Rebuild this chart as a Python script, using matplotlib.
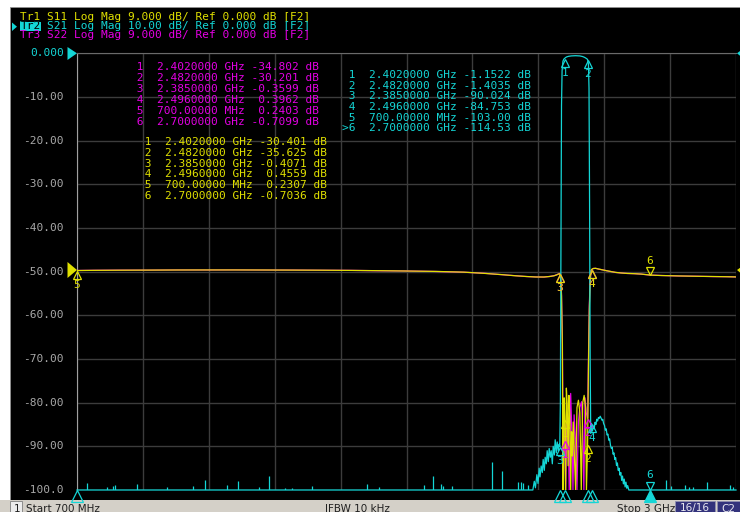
import numpy as np
import matplotlib
matplotlib.use("Agg")
from matplotlib import pyplot as plt
from matplotlib import transforms as mtrans
from matplotlib.patches import Rectangle, Polygon

W, H = 740, 512

# ---- trace data (frequency in MHz) ----
# Tr2 S21, dB (values below -100 sit on the bottom of the screen)
s21_freq = [700, 2285, 2291, 2296, 2300, 2305, 2309, 2313, 2316, 2320, 2324, 2327, 2331, 2334,
            2338, 2341, 2345, 2348, 2352, 2355, 2359, 2362, 2366, 2369, 2373, 2376, 2380, 2383,
            2385, 2387, 2389, 2391, 2393, 2396, 2399, 2402, 2408, 2415, 2425, 2440, 2455, 2465,
            2472, 2477, 2482, 2485, 2487, 2489, 2491, 2493, 2496, 2499, 2502, 2505, 2508, 2511,
            2514, 2517, 2520, 2523, 2526, 2529, 2532, 2535, 2538, 2541, 2544, 2547, 2550, 2553,
            2556, 2559, 2562, 2565, 2568, 2571, 2574, 2577, 2580, 2583, 2586, 2589, 2592, 2595,
            2598, 2601, 2604, 2607, 2610, 2613, 2616, 2619, 2622, 2626, 3000]
s21_db = [-110, -110, -100.5, -98, -99.5, -96.5, -98.5, -95, -97, -94.5, -96, -93, -95.5, -92.5,
          -94, -91, -93.5, -90.5, -92.5, -91, -94, -90, -92, -88.5, -91.5, -89, -91, -89.5,
          -90.02, -80, -45, -12, -4, -1.8, -1.35, -1.15, -0.85, -0.7, -0.6, -0.55, -0.6, -0.75,
          -0.95, -1.15, -1.40, -2.5, -8, -35, -70, -87, -84.75, -86.5, -85.5, -86, -84.5, -85,
          -83.8, -84.2, -83.4, -83.6, -83.1, -83.5, -84, -83.8, -84.8, -85.2, -86.3, -86, -87.4, -87.2,
          -88.6, -88.3, -89.8, -90.5, -90.2, -91.8, -91.5, -93, -92.6, -94.4, -93.8, -95.5, -95, -96.6,
          -96, -97.8, -96.8, -98.6, -97.5, -99.3, -98.2, -99.6, -99, -104, -110]
# noise spikes poking above the S21 floor
spike_freq = [734, 804, 827, 833, 910, 1013, 1104, 1146, 1223, 1263, 1336, 1369, 1427, 1449,
              1521, 1711, 1754, 1911, 1944, 1969, 1978, 2008, 2149, 2184, 2240, 2249, 2258, 2273,
              2754, 2772, 2822, 2835, 2849, 2898, 2979, 2990]
spike_db = [-98.3, -99.2, -99.1, -98.8, -98.6, -99.3, -99.1, -97.7, -98.8, -97.9, -99.4, -96.8,
            -99.5, -99.5, -99.1, -98.6, -99.2, -98.9, -96.9, -98.6, -99.0, -99.1, -93.5, -95.7,
            -98.2, -98.2, -98.5, -98.8, -97.7, -99.1, -98.9, -99.3, -99.2, -98.1, -98.9, -99.2]

# Tr1 S11, dB
s11_freq = [700, 760, 850, 950, 1050, 1150, 1250, 1350, 1450, 1550, 1650, 1750, 1850, 1950,
            2050, 2120, 2180, 2230, 2270, 2300, 2330, 2350, 2365, 2375, 2380, 2385, 2388, 2391,
            2394, 2396, 2398, 2400, 2402, 2405, 2408, 2411, 2414, 2417, 2420, 2423, 2426, 2429,
            2432, 2435, 2440, 2445, 2450, 2455, 2460, 2465, 2470, 2475, 2478, 2482, 2485, 2488,
            2491, 2494, 2496, 2502, 2510, 2520, 2535, 2550, 2565, 2580, 2600, 2620, 2645, 2670,
            2700, 2740, 2800, 2860, 2920, 2970, 3000]
s11_db = [0.231, 0.27, 0.3, 0.32, 0.34, 0.35, 0.35, 0.34, 0.32, 0.3, 0.26, 0.2, 0.13, 0.05,
          -0.1, -0.35, -0.6, -0.85, -1.0, -1.1, -1.1, -1.0, -0.85, -0.65, -0.5, -0.407, -1.5, -5,
          -15, -45, -28, -26, -30.401, -45, -24, -27.5, -40, -25.5, -30, -46, -33, -38,
          -31, -36, -45, -28, -26.5, -29, -45, -27, -25.5, -28, -45, -35.625, -20, -8,
          -2, 0.2, 0.456, 0.66, 0.68, 0.55, 0.35, 0.18, 0.0, -0.15, -0.28, -0.36, -0.42, -0.5,
          -0.704, -0.8, -0.88, -0.95, -1.0, -1.05, -1.08]

# Tr3 S22, dB
s22_freq = [700, 760, 850, 950, 1050, 1150, 1250, 1350, 1450, 1550, 1650, 1750, 1850, 1950,
            2050, 2120, 2180, 2230, 2270, 2300, 2330, 2350, 2365, 2375, 2380, 2385, 2388, 2391,
            2394, 2397, 2400, 2402, 2406, 2410, 2414, 2418, 2423, 2427, 2431, 2435, 2440, 2445,
            2450, 2455, 2461, 2465, 2469, 2473, 2477, 2482, 2485, 2488, 2491, 2494, 2496, 2502,
            2510, 2520, 2535, 2550, 2565, 2580, 2600, 2620, 2645, 2670, 2700, 2740, 2800, 2860,
            2920, 2970, 3000]
s22_db = [0.240, 0.28, 0.31, 0.31, 0.35, 0.34, 0.36, 0.33, 0.33, 0.29, 0.27, 0.19, 0.14, 0.04,
          -0.12, -0.33, -0.62, -0.83, -1.02, -1.08, -1.12, -0.98, -0.83, -0.62, -0.47, -0.360, -1.2,
          -4.5, -14, -38, -29, -34.802, -45, -29, -33, -45, -25.1, -33, -45, -29.5, -35, -45,
          -31, -28, -26.8, -32, -45, -26, -29, -30.201, -18, -7, -1.8, 0.2, 0.396, 0.64,
          0.7, 0.53, 0.37, 0.16, 0.02, -0.17, -0.27, -0.38, -0.41, -0.52, -0.710, -0.79, -0.9,
          -0.94, -1.02, -1.04, -1.1]

# ---- marker tables ----
mk_freq = [2402, 2482, 2385, 2496, 700, 2700]
mk_freq_txt = ["2.4020000 GHz", "2.4820000 GHz", "2.3850000 GHz", "2.4960000 GHz",
               "700.00000 MHz", "2.7000000 GHz"]
s11_mk = [-30.401, -35.625, -0.4071, 0.4559, 0.2307, -0.7036]
s21_mk = [-1.1522, -1.4035, -90.024, -84.753, -103.00, -114.53]
s22_mk = [-34.802, -30.201, -0.3599, 0.3962, 0.2403, -0.7099]
s21_mk_names = ["1", "2", "3", "4", "5", ">6"]

header = ["Tr1 S11 Log Mag 9.000 dB/ Ref 0.000 dB [F2]",
          "Tr2 S21 Log Mag 10.00 dB/ Ref 0.000 dB [F2]",
          "Tr3 S22 Log Mag 9.000 dB/ Ref 0.000 dB [F2]"]
y_ticks = [0, -10, -20, -30, -40, -50, -60, -70, -80, -90, -100]
y_labels = ["0.000", "-10.00", "-20.00", "-30.00", "-40.00", "-50.00", "-60.00",
            "-70.00", "-80.00", "-90.00", "-100.0"]
x_start, x_stop = 700, 3000

# S11/S22 are 9 dB/div with reference on the middle line (grid runs 0..-100 in 10 steps)
def disp9(v):
    return np.clip(-50 + np.asarray(v, float) * 10 / 9, -100, 0)

def fmt5(v):
    ndig = max(len(str(int(abs(v)))), 1)
    return f"{v:.{5 - ndig}f}"

YEL = "#e0e000"
CYN = "#14d6d6"
MAG = "#e400e4"
GRID = "#3c3c3c"
MONO = "DejaVu Sans Mono"
FS = 8.0

fig = plt.figure(figsize=(W / 100, H / 100), dpi=100)
fig.patch.set_facecolor("white")

def px(x, y):
    return x / W, 1 - y / H

def fpatch(p, z=1):
    p.set_transform(fig.transFigure)
    p.set_zorder(z)
    fig.patches.append(p)

# black instrument panel + status bar (behind the axes)
fpatch(Rectangle((10 / W, 1 - 500 / H), 730 / W, 493 / H, facecolor="black",
                 edgecolor="#909090", lw=0.6), z=-5)
fpatch(Rectangle((0, 0), 1, 12 / H, facecolor="#d4d0c8", edgecolor="none"), z=-5)

ax = fig.add_axes([77 / W, 1 - 490 / H, (736 - 77) / W, (490 - 53.3) / H])
ax.set_zorder(0)
ax.set_facecolor("black")
ax.set_xlim(x_start, x_stop)
ax.set_ylim(-100, 0)
ax.set_xticks(np.linspace(x_start, x_stop, 11))
ax.set_yticks(y_ticks)
ax.grid(True, color=GRID, lw=1.0)
ax.set_axisbelow(True)
ax.tick_params(length=0, labelbottom=False, labelleft=False)
for s in ["right", "bottom"]:
    ax.spines[s].set_visible(False)
ax.spines["left"].set_color("#a0a0a0")
ax.spines["top"].set_color("#6a6a6a")

# traces
ax.plot(s22_freq, disp9(s22_db), color=MAG, lw=0.9, zorder=3)
ax.plot(s11_freq, disp9(s11_db), color=YEL, lw=0.9, zorder=4)
ax.plot(s21_freq, np.clip(s21_db, -100, 0), color=CYN, lw=0.9, zorder=5, clip_on=False)
ax.vlines(spike_freq, -100, spike_db, color=CYN, lw=0.9, zorder=5)

# marker symbols
def marker(f, v, name, color, up=True, z=6):
    sgn = -1 if up else 1
    t_tri = mtrans.offset_copy(ax.transData, fig=fig, x=0, y=sgn * 4.5, units="dots")
    t_num = mtrans.offset_copy(ax.transData, fig=fig, x=0, y=sgn * 14.5, units="dots")
    ax.plot([f], [v], marker="^" if up else "v", ms=6.2, mfc="none", mec=color, mew=0.9,
            transform=t_tri, clip_on=False, zorder=z)
    ax.text(f, v, name, color=color, fontsize=FS, family=MONO, ha="center", va="center",
            transform=t_num, zorder=z, clip_on=False)

for i in range(4):
    marker(mk_freq[i], disp9(s22_mk[i]), str(i + 1), MAG, z=6)
for i in range(5):
    marker(mk_freq[i], disp9(s11_mk[i]), str(i + 1), YEL, z=7)
marker(mk_freq[5], disp9(s11_mk[5]), "6", YEL, up=False, z=7)
for i in range(4):
    marker(mk_freq[i], s21_mk[i], str(i + 1), CYN, z=8)
# active marker 6 of Tr2 is below the screen: shown on the bottom line
marker(mk_freq[5], -100, "6", CYN, up=False, z=8)

# stimulus markers in the strip under the grid
t_bot = mtrans.offset_copy(ax.get_xaxis_transform(), fig=fig, x=0, y=-5.5, units="dots")
for i, f in enumerate(mk_freq):
    act = i == 5
    ax.plot([f], [0], marker="^", ms=8, mfc=CYN if act else "none", mec=CYN, mew=0.9,
            transform=t_bot, clip_on=False, zorder=8)

# y tick labels and reference arrows
for yv, lab in zip(y_ticks, y_labels):
    ypx = 53.3 + (-yv) * 4.367
    fig.text(*px(64, ypx), lab, color=CYN if yv == 0 else "#a8a8a8", fontsize=FS,
             family=MONO, ha="right", va="center")
fpatch(Polygon([px(67.5, 47), px(67.5, 60), px(77, 53.3)], closed=True,
               facecolor=CYN, edgecolor="none"), z=2)
fpatch(Polygon([px(67.5, 262), px(67.5, 278), px(77, 270)], closed=True,
               facecolor=YEL, edgecolor="none"), z=2)
fpatch(Polygon([px(737, 53.3), px(744, 48), px(744, 59)], closed=True,
               facecolor=CYN, edgecolor="none"), z=2)
fpatch(Polygon([px(737, 270), px(744, 265), px(744, 276)], closed=True,
               facecolor=YEL, edgecolor="none"), z=2)

# trace header
for k, (line, col) in enumerate(zip(header, [YEL, CYN, MAG])):
    fig.text(*px(20.5, 17.3 + 8.7 * k), line, color=col, fontsize=FS, family=MONO,
             va="center", ha="left")
fpatch(Rectangle(px(20, 31), 21 / W, 9.5 / H, facecolor=CYN, edgecolor="none"), z=2.5)
fig.text(*px(20.5, 26), header[1][:3], color="black", fontsize=FS, family=MONO,
         va="center", ha="left", zorder=3.5)
fpatch(Polygon([px(12, 22.5), px(12, 31), px(17, 26.7)], closed=True,
               facecolor=CYN, edgecolor="none"), z=2)

# marker tables
def table(x0, y0, dy, names, vals, col):
    for k, (n, ft, v) in enumerate(zip(names, mk_freq_txt, vals)):
        s = f"{n:>2}  {ft} {fmt5(v):>7} dB"
        fig.text(*px(x0, y0 + dy * k), s, color=col, fontsize=FS, family=MONO,
                 va="center", ha="left")

table(130.5, 66.7, 11.0, [str(i) for i in range(1, 7)], s22_mk, MAG)
table(341.5, 75.0, 10.67, s21_mk_names, s21_mk, CYN)
table(138.5, 142.3, 10.7, [str(i) for i in range(1, 7)], s11_mk, YEL)

# status bar
fpatch(Rectangle(px(10, 512), 12 / W, 11 / H, facecolor="#ececec", edgecolor="#808080",
                 lw=0.6), z=2)
fig.text(*px(13.5, 511.5), "1", color="#202020", fontsize=7.5, va="baseline")
fig.text(*px(26, 511.5), "Start 700 MHz", color="#202020", fontsize=7.5, va="baseline")
fig.text(*px(325, 511.5), "IFBW 10 kHz", color="#202020", fontsize=7.5, va="baseline")
fig.text(*px(617, 511.5), "Stop 3 GHz", color="#202020", fontsize=7.5, va="baseline")
fpatch(Rectangle(px(675, 512), 40 / W, 11 / H, facecolor="#33337c", edgecolor="#9090b0",
                 lw=0.6), z=2)
fig.text(*px(695, 511.5), "16/16", color="#e8e8f0", fontsize=7.5, va="baseline", ha="center")
fpatch(Rectangle(px(717, 512), 23 / W, 11 / H, facecolor="#33337c", edgecolor="#9090b0",
                 lw=0.6), z=2)
fig.text(*px(721, 511.5), "C2", color="#e8e8f0", fontsize=7.5, va="baseline")

fig.savefig("out.png", dpi=100, facecolor=fig.get_facecolor())
